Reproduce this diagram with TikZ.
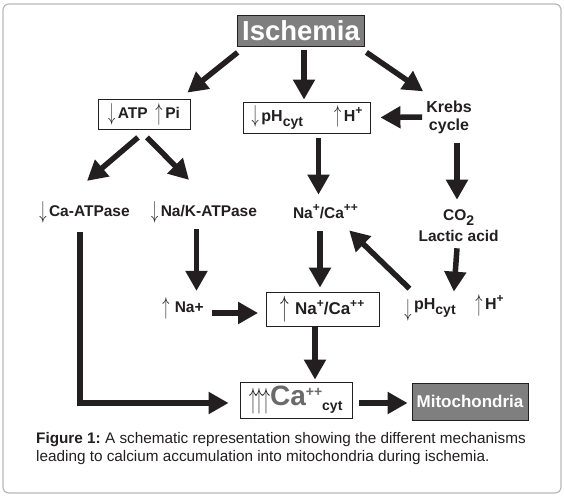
\documentclass[tikz,border=0pt]{standalone}
\usepackage{fontspec}
\usepackage{graphicx}
\setmainfont{Liberation Sans}
\usetikzlibrary{arrows.meta,calc}
\definecolor{boxgray}{HTML}{7F7F7F}
\definecolor{cagray}{HTML}{6A6A6A}
\definecolor{framegray}{HTML}{B8B8B8}
\definecolor{txt}{HTML}{231F20}
\newcommand\dnar{\raisebox{-1.5pt}{\scalebox{1}[1.7]{$\downarrow$}}}
\newcommand\upar{\raisebox{-1.5pt}{\scalebox{1}[1.7]{$\uparrow$}}}
\newcommand\fs[1]{\fontsize{#1}{#1}\selectfont}
\newcommand\sbs[1]{\raisebox{-0.32em}{\fs{14}#1}}
\newcommand\sps[1]{\raisebox{0.45em}{\fs{12}#1}}
\frenchspacing
\begin{document}
\begin{tikzpicture}[x=1pt,y=-1pt,
  lab/.style={inner sep=0pt, text=txt, font=\fs{15.5}\bfseries},
  framed/.style={draw=txt, line width=0.8pt, inner sep=0pt, text=txt, font=\fs{15.5}\bfseries},
  dark/.style={draw=txt, line width=0.8pt, fill=boxgray, text=white, inner sep=0pt},
  fat/.style={draw=txt, line width=5.5pt, -{Triangle[length=20pt,width=21pt]}}]
\useasboundingbox (0,0) rectangle (564,497);
\draw[rounded corners=6pt, line width=1.2pt, framegray] (3,4) rectangle (561,493);

\node[dark, minimum width=127pt, minimum height=31pt, font=\fs{27.5}\bfseries] (isch) at (301,30.5) {Ischemia};
\node[framed, minimum width=92pt, minimum height=30pt] (atp) at (144,114) {\dnar\,ATP\enspace\upar\,Pi};
\node[framed, minimum width=127pt, minimum height=31pt] (ph) at (307,117.5) {\dnar\,{\fs{16}pH}\sbs{cyt}\qquad\upar\,{\fs{16}H}\sps{+}};
\node[lab, align=center, font=\fs{16}\bfseries] (krebs) at (449,117) {Krebs\\[2pt]cycle};
\node[lab] (caatp) at (84.5,212) {\dnar\,Ca-ATPase};
\node[lab] (nak) at (204,212) {\dnar\,Na/K-ATPase};
\node[lab] (naca) at (325.5,212) {Na\sps{+}/Ca\sps{++}};
\node[lab, align=center] (co2) at (458.6,226) {CO\sbs{2}\\[4pt]Lactic acid};
\node[lab] (na) at (183,308) {\upar\,\,Na+};
\node[framed, minimum width=113pt, minimum height=34pt, font=\fs{17}\bfseries] (nacab) at (322.5,309) {\upar\,\,Na\sps{+}/Ca\sps{++}};
\node[lab] (ph2) at (430,310) {\raisebox{-5pt}{\dnar}\,{\fs{16}pH}\sbs{cyt}};
\node[lab] (hp) at (489.5,305) {\upar\,{\fs{16}H}\sps{+}};
\node[framed, minimum width=112pt, minimum height=36pt] (cab) at (296,400) {\raisebox{-1pt}{\scalebox{1.1}[1.2]{\upar\hspace{-1.5pt}\upar\hspace{-1.5pt}\upar}}\textcolor{cagray}{\fs{28}Ca}\raisebox{9pt}{\textcolor{cagray}{\fs{14}++}}\raisebox{-5pt}{\fs{14}cyt}};
\node[dark, minimum width=116pt, minimum height=37pt, font=\fs{17}\bfseries] (mito) at (470,401.5) {Mitochondria};
\node[anchor=north west, align=left, inner sep=0pt, text=txt, font=\fs{15.3}] (cap) at (36,432) {\textbf{Figure 1:} A schematic representation showing the different mechanisms\\[3pt]leading to calcium accumulation into mitochondria during ischemia.};

\draw[fat] ([shift={(0.5,6)}]isch.south west) -- ([shift={(-3,-6)}]atp.north east);
\draw[fat] ([shift={(3,4)}]isch.south) -- ([shift={(-3,-2)}]ph.north);
\draw[fat] ([shift={(1.5,6)}]isch.south east) -- ([shift={(-3,-9)}]krebs.north west);
\draw[fat] ([xshift=-4]krebs.west) -- ([xshift=9.5]ph.east);
\draw[fat] ([shift={(-6,8)}]atp.south) -- ([shift={(2.5,-20)}]caatp.north);
\draw[fat] ([shift={(3,8)}]atp.south) -- ([shift={(-15,-21)}]nak.north);
\draw[fat] ([shift={(11.5,5)}]ph.south) -- ([shift={(-7,-10)}]naca.north);
\draw[fat] ([shift={(8,9)}]krebs.south) -- ([shift={(-1.6,-10)}]co2.north);
\draw[fat] ([shift={(-4.5,9)}]caatp.south) |- ([shift={(-11,3)}]cab.west);
\draw[fat] ([shift={(-7.5,6)}]nak.south) -- ([shift={(13.5,-6)}]na.north);
\draw[fat] ([shift={(-5.5,12)}]naca.south) -- ([shift={(-2.5,-4)}]nacab.north);
\draw[fat] ([shift={(-20.5,-10)}]ph2.north) -- ([shift={(-9,11)}]naca.south east);
\draw[fat] ([shift={(-1.6,6)}]co2.south) -- ([shift={(-2,-7)}]ph2.north east);
\draw[fat] ([shift={(8,5)}]na.east) -- ([shift={(-7.5,4)}]nacab.west);
\draw[fat] ([shift={(-7.5,1)}]nacab.south) -- ([shift={(19,-2)}]cab.north);
\draw[fat] ([shift={(6.5,3)}]cab.east) -- ([shift={(-4,1.5)}]mito.west);
\end{tikzpicture}
\end{document}
